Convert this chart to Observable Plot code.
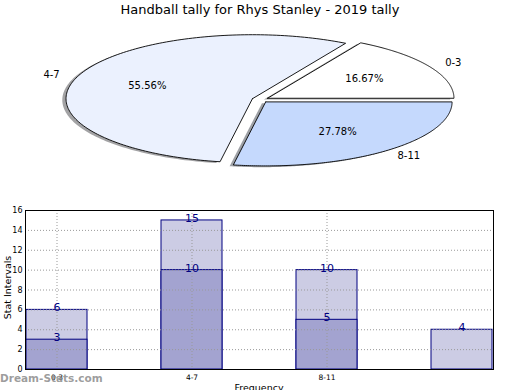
<!DOCTYPE html>
<html>
<head>
<meta charset="utf-8">
<script src="https://cdn.jsdelivr.net/npm/d3@7"></script>
<script src="https://cdn.jsdelivr.net/npm/@observablehq/plot@0.6"></script>
<style>
  html, body { margin: 0; padding: 0; background: #fff; }
  #wrap { position: relative; width: 520px; height: 390px; overflow: hidden; font-family: "DejaVu Sans", sans-serif; }
  #wrap > * { position: absolute; }
  #title { left: 0; top: 2px; width: 520px; text-align: center; font-size: 13px; color: #000; }
  #ylab { left: -38px; top: 282px; width: 90px; text-align: center; font-size: 9.5px; transform: rotate(-90deg); }
  #xlab { left: 0; top: 382px; width: 518px; text-align: center; font-size: 9.5px; }
  #wm { left: 0; top: 372px; font-size: 10.5px; font-weight: bold; color: rgba(140,140,140,0.85); }
</style>
</head>
<body>
<div id="wrap">
  <div id="pie" style="left:0;top:0"></div>
  <div id="bars" style="left:0;top:200px"></div>
  <div id="title">Handball tally for Rhys Stanley - 2019 tally</div>
  <div id="ylab">Stat Intervals</div>
  <div id="xlab">Frequency</div>
  <div id="wm">Dream-Stats.com</div>
</div>
<script>
// ---- data ----
const pieLabels = ["0-3", "4-7", "8-11"];
const pieValues = [3, 10, 5];
const pieColors = ["#ffffff", "#ebf1fe", "#c5d9fd"];

const barCategories = ["0-3", "4-7", "8-11", ""];
const backValues = [6, 15, 10, 4];
const frontValues = [3, 10, 5, 0];
const yTicks = [0, 2, 4, 6, 8, 10, 12, 14, 16];
const xTickLabels = ["0-3", "4-7", "8-11"];

// ---- pie geometry (unit circle, stretched by scales) ----
const explode = 0.045;
const cx = 259.8, cy = 99.2, rx = 186.4, ry = 64, pieH = 200;
const total = d3.sum(pieValues);
let acc = 0;
const slices = pieValues.map((v, i) => {
  const a0 = acc / total * 2 * Math.PI; acc += v;
  const a1 = acc / total * 2 * Math.PI;
  const mid = (a0 + a1) / 2;
  const ox = explode * Math.cos(mid), oy = explode * Math.sin(mid);
  const pts = [{x: ox, y: oy}];
  const n = 160;
  for (let k = 0; k <= n; k++) {
    const a = a0 + (a1 - a0) * k / n;
    pts.push({x: ox + Math.cos(a), y: oy + Math.sin(a)});
  }
  pts.push({x: ox, y: oy});
  const c = d3.rgb(pieColors[i]);
  const shadow = d3.rgb(c.r * 0.3, c.g * 0.3, c.b * 0.3).formatHex();
  return {label: pieLabels[i], pct: v / total * 100, color: pieColors[i], shadow, mid, ox, oy, pts};
});

const pieMarks = [];
slices.forEach(s => {
  pieMarks.push(Plot.line(s.pts, {x: d => d.x - 0.02, y: d => d.y - 0.02, fill: s.shadow, fillOpacity: 0.5, stroke: "none"}));
});
slices.forEach(s => {
  pieMarks.push(Plot.line(s.pts, {x: "x", y: "y", fill: s.color, stroke: "#000", strokeWidth: 0.9}));
});
const lab = d => ({lx: d.ox + 1.1 * Math.cos(d.mid), ly: d.oy + 1.1 * Math.sin(d.mid)});
pieMarks.push(Plot.text(slices.filter(d => Math.cos(d.mid) >= 0), {x: d => lab(d).lx, y: d => lab(d).ly, text: "label", textAnchor: "start", fontSize: 10, fill: "#000"}));
pieMarks.push(Plot.text(slices.filter(d => Math.cos(d.mid) < 0), {x: d => lab(d).lx, y: d => lab(d).ly, text: "label", textAnchor: "end", fontSize: 10, fill: "#000"}));
pieMarks.push(Plot.text(slices, {x: d => d.ox + 0.6 * Math.cos(d.mid), y: d => d.oy + 0.6 * Math.sin(d.mid), text: d => d.pct.toFixed(2) + "%", fontSize: 10, fill: "#000"}));

const pie = Plot.plot({
  width: 520, height: pieH, margin: 0,
  x: {domain: [-cx / rx, (520 - cx) / rx], range: [0, 520], axis: null},
  y: {domain: [(cy - pieH) / ry, cy / ry], range: [pieH, 0], axis: null},
  style: {fontFamily: "DejaVu Sans, sans-serif", background: "transparent"},
  marks: pieMarks
});
document.getElementById("pie").appendChild(pie);

// ---- bars ----
const backData = barCategories.map((c, i) => ({cat: c, v: backValues[i]}));
const frontData = barCategories.map((c, i) => ({cat: c, v: frontValues[i]}));

const bars = Plot.plot({
  width: 520, height: 190, marginTop: 10, marginBottom: 21, marginLeft: 25, marginRight: 27,
  x: {type: "band", domain: barCategories, paddingInner: 0.55, paddingOuter: 0, align: 0.5, axis: null, label: null},
  y: {domain: [0, 16], axis: null, label: null},
  style: {fontFamily: "DejaVu Sans, sans-serif", background: "transparent"},
  marks: [
    Plot.barY(backData, {x: "cat", y: "v", fill: "#ccccE4", stroke: "#000080", strokeWidth: 1}),
    Plot.barY(frontData.filter(d => d.v > 0), {x: "cat", y: "v", fill: "#a3a3d0", stroke: "#000080", strokeWidth: 1}),
    Plot.gridY(yTicks.slice(1, -1), {stroke: "#999", strokeOpacity: 1, strokeDasharray: "1,2", strokeWidth: 1}),
    Plot.gridX(xTickLabels, {stroke: "#999", strokeOpacity: 1, strokeDasharray: "1,2", strokeWidth: 1}),
    Plot.frame({stroke: "#000", strokeWidth: 1}),
    Plot.axisY(yTicks, {tickSize: 0, tickPadding: 3, fontSize: 8, fill: "#000", label: null}),
    Plot.axisX(xTickLabels, {tickSize: 0, tickPadding: 5, fontSize: 7.5, fill: "#000", label: null}),
    Plot.text(backData, {x: "cat", y: "v", text: d => String(d.v), lineAnchor: "bottom", dy: 1.5, fill: "#000080", fontSize: 11}),
    Plot.text(frontData.filter(d => d.v > 0), {x: "cat", y: "v", text: d => String(d.v), lineAnchor: "bottom", dy: 1.5, fill: "#000080", fontSize: 11})
  ]
});
document.getElementById("bars").appendChild(bars);
</script>
</body>
</html>
